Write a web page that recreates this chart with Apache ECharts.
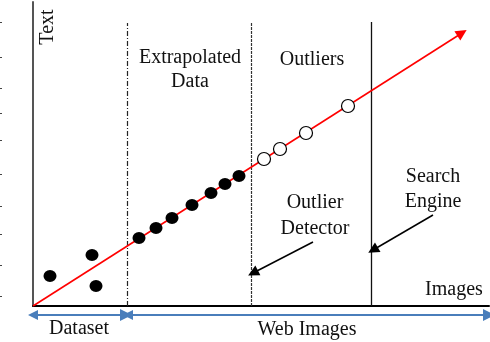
<!DOCTYPE html>
<html><head><meta charset="utf-8">
<script src="https://cdn.jsdelivr.net/npm/echarts@6/dist/echarts.min.js"></script>
<style>html,body{margin:0;padding:0;background:#fff}#c{width:490px;height:342px}</style>
</head><body><div id="c"></div>
<script>
// Data (x, y in axis units; origin at the axes' corner)
const datasetPoints = [[17,30],[59,51],[63,20]];
const extrapolatedPoints = [[106,68],[123,78],[139,88],[159,101],[178,113],[192,122],[206,130]];
const outlierPoints = [[231,147],[247,157],[273,173],[315,200]];
const trendLine = [[0,0],[429,273]];
const boundaryX = {extrapolated: 94, detector: 218, engine: 338};
const boundaryTop = 283;
const rangeArrows = {dataset: [0,93], web: [95,456]};
const rangeArrowY = -9;
const detectorArrow = [[280,64],[220,33]];
const engineArrow = [[400,91],[340,56]];
const edgeTickY = [22,57,88,113,140,174,206,234,265,296];

const serif = '"Liberation Serif","DejaVu Serif",serif';
const chart = echarts.init(document.getElementById('c'));
const txt = (x,y,t,extra) => Object.assign({type:'text', x, y, style:{text:t, font:'20px '+serif, fill:'#111', align:'center', verticalAlign:'middle'}}, extra||{});

chart.setOption({
  animation:false,
  grid:{left:33, top:2, width:456, height:304},
  xAxis:{type:'value', min:0, max:456, axisLine:{lineStyle:{color:'#000', width:2}}, axisTick:{show:false}, axisLabel:{show:false}, splitLine:{show:false}},
  yAxis:{type:'value', min:0, max:304, axisLine:{show:true, lineStyle:{color:'#555', width:2}}, axisTick:{show:false}, axisLabel:{show:false}, splitLine:{show:false}},
  graphic: [
    txt(48,27,'Text',{rotation:Math.PI/2}),
    txt(190,58,'Extrapolated'),
    txt(190,82,'Data'),
    txt(312,60,'Outliers'),
    txt(315,203,'Outlier'),
    txt(315,229,'Detector'),
    txt(433,177,'Search'),
    txt(433,202,'Engine'),
    txt(454,290,'Images'),
    txt(79,329,'Dataset'),
    txt(307,330,'Web Images')
  ].concat(edgeTickY.map(y => ({type:'rect', shape:{x:0,y:y,width:2,height:1}, style:{fill:'#444'}}))),
  series:[
    {type:'lines', coordinateSystem:'cartesian2d', silent:true, z:1,
     data:[{coords:[[boundaryX.extrapolated,0],[boundaryX.extrapolated,boundaryTop]], lineStyle:{type:[5,2,1,2], color:'#222', width:1.2, opacity:1}},
           {coords:[[boundaryX.detector,0],[boundaryX.detector,boundaryTop]], lineStyle:{type:[3,1], color:'#333', width:1.2, opacity:1}},
           {coords:[[boundaryX.engine,0],[boundaryX.engine,boundaryTop+1]], lineStyle:{type:'solid', color:'#111', width:1.3, opacity:1}}]},
    {type:'lines', coordinateSystem:'cartesian2d', silent:true, z:2, symbol:['none','triangle'], symbolSize:[9,11],
     lineStyle:{color:'#ff0000', width:1.6, opacity:1}, data:[{coords:trendLine}]},
    {type:'lines', coordinateSystem:'cartesian2d', silent:true, z:2, symbol:['none','triangle'], symbolSize:[9,11],
     lineStyle:{color:'#000', width:1.5, opacity:1}, data:[{coords:detectorArrow},{coords:engineArrow}]},
    {type:'lines', coordinateSystem:'cartesian2d', silent:true, clip:false, z:2, symbol:['triangle','triangle'], symbolSize:[10,12],
     lineStyle:{color:'#4a7ebb', width:2.2, opacity:1},
     data:[{coords:[[rangeArrows.dataset[0],rangeArrowY],[rangeArrows.dataset[1],rangeArrowY]]},
           {coords:[[rangeArrows.web[0],rangeArrowY],[rangeArrows.web[1],rangeArrowY]]}]},
    {type:'scatter', z:3, symbol:'circle', symbolSize:[13,12], itemStyle:{color:'#000', opacity:1}, data:datasetPoints.concat(extrapolatedPoints)},
    {type:'scatter', z:3, symbol:'circle', symbolSize:13, itemStyle:{color:'#fff', borderColor:'#000', borderWidth:1.2, opacity:1}, data:outlierPoints}
  ]
});
</script></body></html>
